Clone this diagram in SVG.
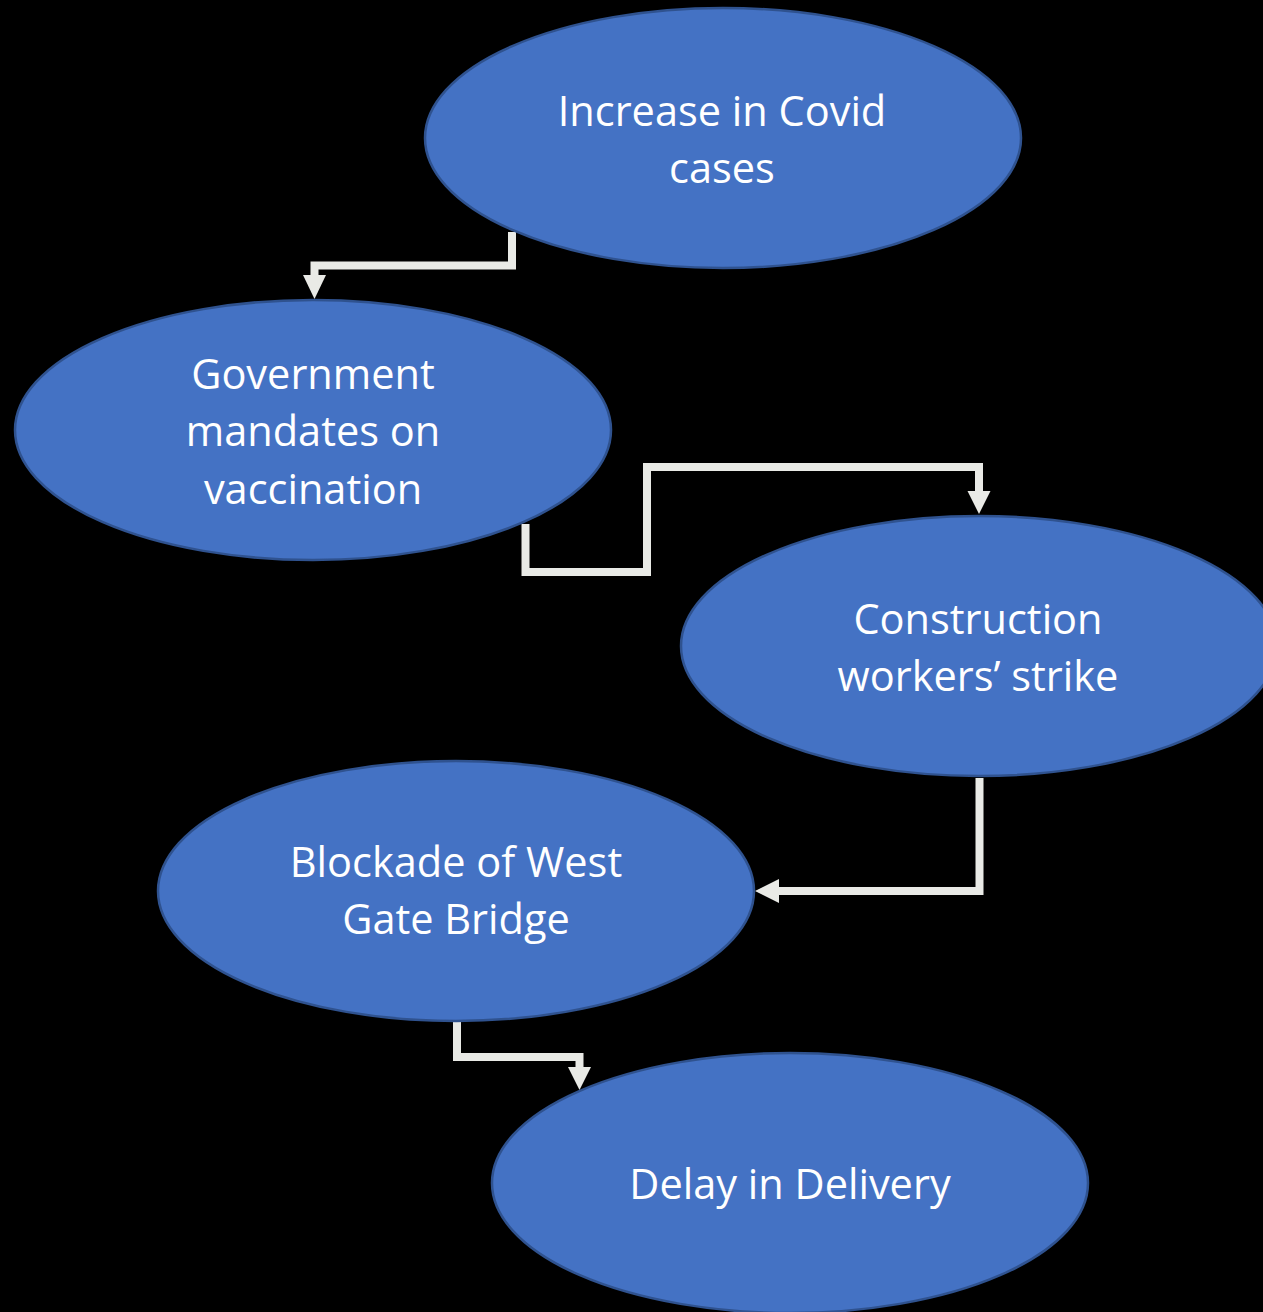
<svg xmlns="http://www.w3.org/2000/svg" width="1263" height="1312" viewBox="0 0 1263 1312">
<defs>
<style>
.node ellipse{fill:#4472C4;stroke:#2F528F;stroke-width:2.5}
.node text{fill:#FFFFFF;font-family:"Open Sans","Liberation Sans",sans-serif;font-size:41.5px;text-anchor:middle}
.conn path{fill:none;stroke:#E9EAE6;stroke-width:8;stroke-linejoin:miter}
.conn polygon{fill:#E9EAE6}
</style>
</defs>
<rect x="0" y="0" width="1263" height="1312" fill="#000000"/>
<g id="connectors" class="conn">
<path d="M512,232 V265.5 H314.5 V276"/>
<polygon points="303,275 326,275 314.5,299"/>
<path d="M525.5,524 V572 H647 V467 H979 V492"/>
<polygon points="967.5,491 990.5,491 979,514"/>
<path d="M979.5,778 V891 H778"/>
<polygon points="779,879 779,903 755,891"/>
<path d="M457,1022 V1057 H579.5 V1068"/>
<polygon points="568,1067 591,1067 579.5,1090"/>
</g>
<g id="node-covid" class="node">
<ellipse cx="723" cy="138" rx="298" ry="130"/>
<text x="722" y="126">Increase in Covid</text>
<text x="722" y="183">cases</text>
</g>
<g id="node-government" class="node">
<ellipse cx="313" cy="430" rx="298" ry="130"/>
<text x="313" y="389">Government</text>
<text x="313" y="446">mandates on</text>
<text x="313" y="504">vaccination</text>
</g>
<g id="node-construction" class="node">
<ellipse cx="979" cy="646" rx="298" ry="130"/>
<text x="978" y="634">Construction</text>
<text x="978" y="691">workers’ strike</text>
</g>
<g id="node-blockade" class="node">
<ellipse cx="456" cy="891" rx="298" ry="130"/>
<text x="456" y="877">Blockade of West</text>
<text x="456" y="934">Gate Bridge</text>
</g>
<g id="node-delay" class="node">
<ellipse cx="790" cy="1183" rx="298" ry="130"/>
<text x="790" y="1199">Delay in Delivery</text>
</g>
</svg>
